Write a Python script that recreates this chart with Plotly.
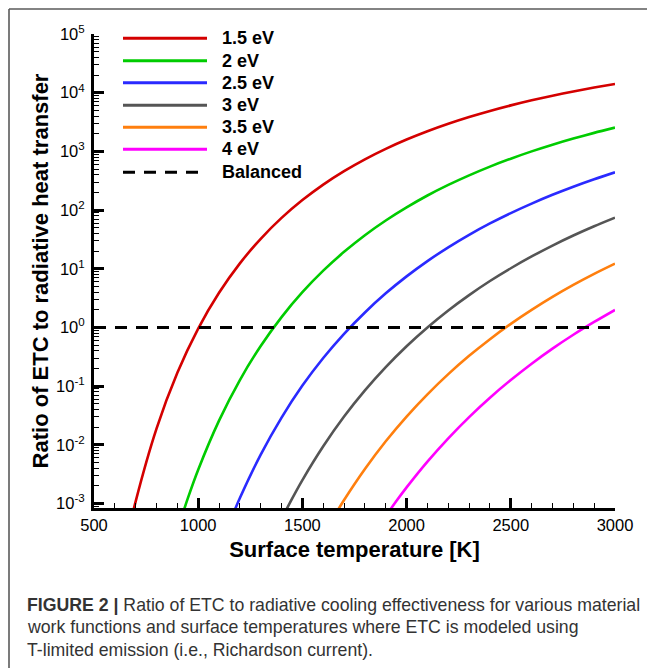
import plotly.graph_objects as go

# ---------------- data ----------------
series_names = ["1.5 eV", "2 eV", "2.5 eV", "3 eV", "3.5 eV", "4 eV"]
series_colors = ["#d40000", "#00cc00", "#2a2aff", "#555555", "#ff7f0e", "#ff00ff"]

t_15 = [650, 700, 800, 900, 1000, 1100, 1200, 1300, 1400, 1500, 1600, 1700, 1800,
        1900, 2000, 2100, 2200, 2300, 2400, 2500, 2600, 2700, 2800, 2900, 3000]
r_15 = [1.86e-4, 1.09e-3, 1.89e-2, 0.169, 0.958, 3.89, 12.35, 32.4, 73.5, 148, 272, 461, 733,
        1105, 1591, 2206, 2956, 3849, 4892, 6078, 7413, 8887, 10493, 12226, 14078]

t_20 = [900, 950, 1000, 1100, 1200, 1300, 1400, 1500, 1600, 1700, 1800, 1900, 2000,
        2100, 2200, 2300, 2400, 2500, 2600, 2700, 2800, 2900, 3000]
r_20 = [3.49e-4, 1.22e-3, 3.76e-3, 2.58e-2, 0.127, 0.483, 1.50, 3.98, 9.27, 19.4, 37.3, 66.4, 111,
        177, 268, 390, 550, 751, 1000, 1300, 1654, 2067, 2539]

t_25 = [1150, 1200, 1300, 1400, 1500, 1600, 1700, 1800, 1900, 2000, 2100, 2200, 2300,
        2400, 2500, 2600, 2700, 2800, 2900, 3000]
r_25 = [4.69e-4, 1.24e-3, 6.81e-3, 2.91e-2, 0.102, 0.301, 0.779, 1.80, 3.81, 7.41, 13.5, 23.2, 37.9,
        59.2, 88.9, 129, 182, 250, 335, 440]

t_30 = [1400, 1450, 1500, 1600, 1700, 1800, 1900, 2000, 2100, 2200, 2300, 2400, 2500,
        2600, 2700, 2800, 2900, 3000]
r_30 = [5.45e-4, 1.20e-3, 2.51e-3, 9.44e-3, 3.03e-2, 8.46e-2, 0.211, 0.479, 1.00, 1.95, 3.56, 6.18, 10.2,
        16.2, 24.8, 36.8, 52.9, 74.1]

t_35 = [1650, 1700, 1800, 1900, 2000, 2100, 2200, 2300, 2400, 2500, 2600, 2700, 2800, 2900, 3000]
r_35 = [5.89e-4, 1.15e-3, 3.88e-3, 1.15e-2, 3.03e-2, 7.25e-2, 0.160, 0.328, 0.631, 1.15, 1.99, 3.31,
        5.30, 8.17, 12.2]

t_40 = [1900, 1950, 2000, 2100, 2200, 2300, 2400, 2500, 2600, 2700, 2800, 2900, 3000]
r_40 = [6.11e-4, 1.09e-3, 1.88e-3, 5.17e-3, 1.29e-2, 2.97e-2, 6.35e-2, 0.127, 0.241, 0.435, 0.750,
        1.24, 1.99]

balanced_t = [500, 3000]
balanced_r = [1, 1]

x_tickvals = [500, 1000, 1500, 2000, 2500, 3000]
y_tickvals = [1e-3, 1e-2, 1e-1, 1e0, 1e1, 1e2, 1e3, 1e4, 1e5]
y_ticktext = ["10<sup>-3</sup>", "10<sup>-2</sup>", "10<sup>-1</sup>", "10<sup>0</sup>",
              "10<sup>1</sup>", "10<sup>2</sup>", "10<sup>3</sup>", "10<sup>4</sup>", "10<sup>5</sup>"]

caption_lines = [
    "<b>FIGURE 2 |</b> Ratio of ETC to radiative cooling effectiveness for various material",
    "work functions and surface temperatures where ETC is modeled using",
    "T-limited emission (i.e., Richardson current).",
]

# ---------------- layout geometry ----------------
# the page body has an 8px margin, so the figure is drawn 8px in from the top-left corner
OFF = 8
W, H = 655 - OFF, 668 - OFF
ML, MR, MT, MB = 94 - OFF, 40, 34 - OFF, 160
PW, PH = W - ML - MR, H - MT - MB
FONT = "Liberation Sans, Arial, Helvetica, sans-serif"


def px(x):
    """page pixel x -> paper coordinate"""
    return (x - OFF - ML) / PW


def py(y):
    """page pixel y -> paper coordinate"""
    return (H - MB - (y - OFF)) / PH


fig = go.Figure()

curves = [(t_15, r_15), (t_20, r_20), (t_25, r_25), (t_30, r_30), (t_35, r_35), (t_40, r_40)]
for (tt, rr), name, col in zip(curves, series_names, series_colors):
    fig.add_trace(go.Scatter(x=tt, y=rr, mode="lines", name=name, showlegend=False,
                             line=dict(color=col, width=2.6, shape="spline", smoothing=0.8)))

fig.add_trace(go.Scatter(x=balanced_t, y=balanced_r, mode="lines", name="Balanced", showlegend=False,
                         line=dict(color="black", width=3, dash="12px,9px")))

# ---------------- custom legend ----------------
legend_rows = [38.3, 60.7, 82.7, 105.3, 127.3, 149.3, 172.3]
shapes = []
annotations = []
leg_names = series_names + ["Balanced"]
leg_colors = series_colors + ["black"]
for i, (nm, col) in enumerate(zip(leg_names, leg_colors)):
    yy = py(legend_rows[i])
    shapes.append(dict(type="line", xref="paper", yref="paper", x0=px(123), x1=px(207), y0=yy, y1=yy,
                       line=dict(color=col, width=3, dash="12px,9px" if nm == "Balanced" else "solid")))
    annotations.append(dict(xref="paper", yref="paper", x=px(220), y=yy, xanchor="left", yanchor="middle",
                            text="<b>%s</b>" % nm, showarrow=False,
                            font=dict(family=FONT, size=18, color="black")))

# frame border (top and left)
shapes.append(dict(type="line", xref="paper", yref="paper", x0=px(OFF + 1), x1=px(W + OFF + 5),
                   y0=py(OFF + 1), y1=py(OFF + 1), line=dict(color="#5a5a5a", width=1.6)))
shapes.append(dict(type="line", xref="paper", yref="paper", x0=px(OFF + 1), x1=px(OFF + 1),
                   y0=py(OFF + 1), y1=py(H + OFF + 5), line=dict(color="#5a5a5a", width=1.6)))

# caption
for i, line in enumerate(caption_lines):
    annotations.append(dict(xref="paper", yref="paper", x=px(25), y=py(605 + 22.5 * i), xanchor="left",
                            yanchor="middle", text=line, showarrow=False,
                            font=dict(family=FONT, size=17.7, color="#333333")))

fig.update_layout(
    width=W, height=H,
    margin=dict(l=ML, r=MR, t=MT, b=MB, pad=0),
    paper_bgcolor="white", plot_bgcolor="white",
    font=dict(family=FONT, color="black"),
    showlegend=False,
    shapes=shapes, annotations=annotations,
    xaxis=dict(
        range=[500, 3000], tickmode="array", tickvals=x_tickvals,
        ticks="inside", ticklen=10, tickwidth=2.5, tickcolor="black",
        showline=True, linewidth=3, linecolor="black", mirror=False,
        showgrid=False, zeroline=False,
        tickfont=dict(family=FONT, size=16.5, color="black"),
        minor=dict(ticks="inside", ticklen=5, tickwidth=1.3, tickcolor="black", dtick=100, tick0=500,
                   showgrid=False),
        title=dict(text="<b>Surface temperature [K]</b>", standoff=9,
                   font=dict(family=FONT, size=22, color="black")),
    ),
    yaxis=dict(
        type="log", range=[-3.0766, 5], tickmode="array", tickvals=y_tickvals, ticktext=y_ticktext,
        ticks="inside", ticklen=10, tickwidth=2.5, tickcolor="black",
        showline=True, linewidth=3, linecolor="black", mirror=False,
        showgrid=False, zeroline=False, ticklabelstandoff=3,
        tickfont=dict(family=FONT, size=16.5, color="black"),
        minor=dict(ticks="inside", ticklen=5, tickwidth=1.3, tickcolor="black",
                   tickvals=[m * 10 ** e for e in range(-4, 5) for m in range(2, 10)],
                   showgrid=False),
        title=dict(text="<b>Ratio of ETC to radiative heat transfer</b>", standoff=2,
                   font=dict(family=FONT, size=22, color="black")),
    ),
)

fig.write_html("out.html")
